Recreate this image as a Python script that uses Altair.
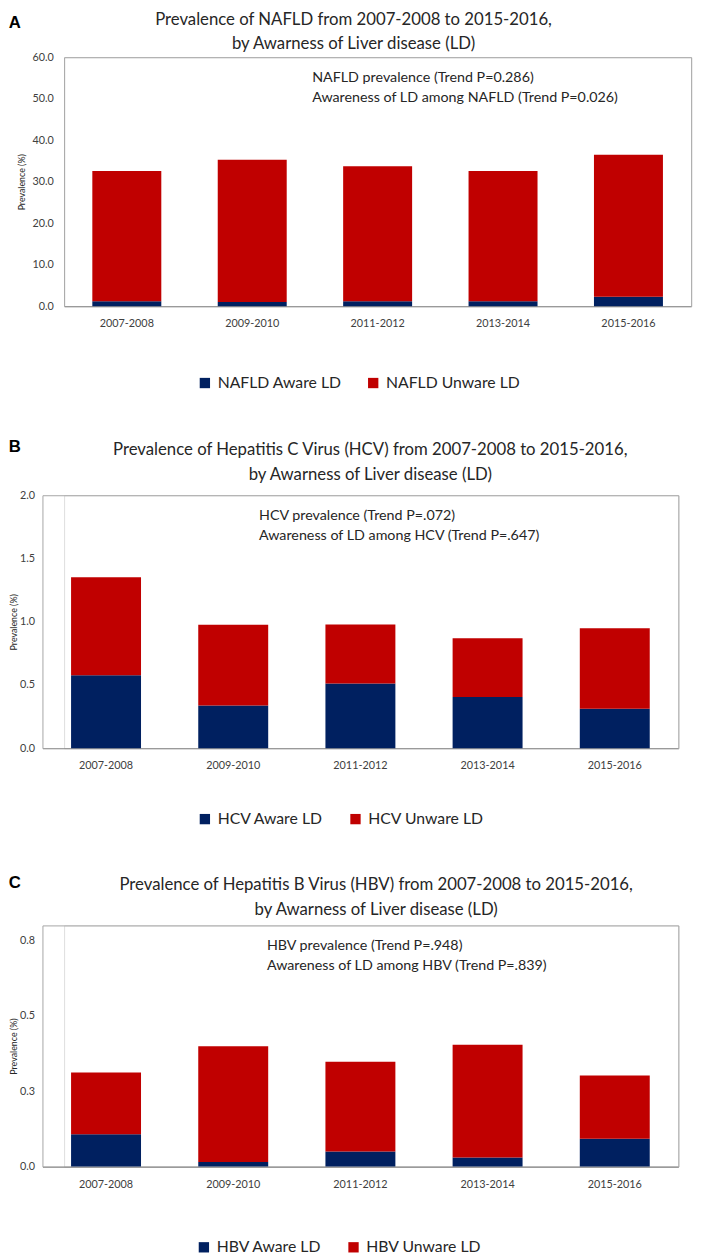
import altair as alt
import pandas as pd

periods = ["2007-2008", "2009-2010", "2011-2012", "2013-2014", "2015-2016"]

# Panel A: NAFLD
nafld_aware = [1.2, 1.0, 1.2, 1.2, 2.3]
nafld_unaware = [31.4, 34.3, 32.5, 31.4, 34.2]
nafld_names = ["NAFLD Aware LD", "NAFLD Unware LD"]

# Panel B: HCV
hcv_aware = [0.577, 0.338, 0.511, 0.405, 0.312]
hcv_unaware = [0.775, 0.638, 0.468, 0.465, 0.636]
hcv_names = ["HCV Aware LD", "HCV Unware LD"]

# Panel C: HBV
hbv_aware = [0.107, 0.015, 0.050, 0.030, 0.092]
hbv_unaware = [0.205, 0.384, 0.298, 0.374, 0.210]
hbv_names = ["HBV Aware LD", "HBV Unware LD"]

FONT = "Lato"
NAVY = "#002060"
RED = "#C00000"
FRAME = "#A6A6A6"


def text_layer(s, x, y, **kw):
    return alt.Chart(pd.DataFrame({"t": [s]})).mark_text(**kw).encode(
        x=alt.value(x), y=alt.value(y), text="t:N")


def panel(letter, title, ann, aware, unaware, names, domain, ticks,
          width, height, shift, title_x, title_y, ann_x, letter_x, letter_y, leg_x, leg_y,
          ytitle_pad, ylab_pad):
    df = pd.DataFrame({
        "period": periods * 2,
        "group": [names[0]] * len(periods) + [names[1]] * len(periods),
        "value": aware + unaware,
        "ord": [0] * len(periods) + [1] * len(periods),
    })
    xscale = alt.Scale(paddingInner=0.45, paddingOuter=0.225, range=[-shift, width])
    yscale = alt.Scale(domain=domain, nice=False)
    bars = alt.Chart(df).mark_bar().encode(
        x=alt.X("period:N", sort=periods, scale=xscale,
                axis=alt.Axis(title=None, labelAngle=0, ticks=False, labelPadding=12,
                              labelFontSize=11, labelColor="#404040", labelFont=FONT,
                              domainColor="#808080", domainWidth=1.2)),
        y=alt.Y("value:Q", stack="zero", scale=yscale,
                axis=alt.Axis(values=ticks, format=".1f", title="Prevalence (%)",
                              titleFontSize=9, titleFontWeight="normal", titleColor="#262626",
                              titleFont=FONT, titlePadding=ytitle_pad, offset=shift,
                              grid=False, domain=True, domainColor=FRAME, ticks=False,
                              labelPadding=ylab_pad,
                              labelFontSize=11, labelColor="#404040", labelFont=FONT)),
        color=alt.Color("group:N", scale=alt.Scale(domain=names, range=[NAVY, RED]),
                        legend=alt.Legend(title=None, orient="none", legendX=leg_x, legendY=leg_y,
                                          direction="horizontal", symbolType="square",
                                          symbolSize=110, symbolStrokeWidth=0,
                                          labelFontSize=16, labelFont=FONT, labelColor="#262626",
                                          columnPadding=24, labelOffset=5)),
        order=alt.Order("ord:Q"),
    )
    # top and right axis lines close the plot-area frame
    frame = alt.Chart(df).mark_bar(opacity=0).encode(
        x=alt.X("period:N", sort=periods, scale=xscale,
                axis=alt.Axis(orient="top", title=None, labels=False, ticks=False,
                              domainColor=FRAME, domainWidth=1)),
        y=alt.Y("value:Q", stack="zero", scale=yscale,
                axis=alt.Axis(orient="right", title=None, labels=False, ticks=False, grid=False,
                              domainColor=FRAME, domainWidth=1)),
    )
    tstyle = dict(align="center", baseline="middle", fontSize=17, font=FONT, color="#262626")
    nstyle = dict(align="left", baseline="middle", fontSize=14.5, font=FONT, color="#262626")
    layers = [
        bars,
        frame,
        text_layer(title[0], title_x, title_y, **tstyle),
        text_layer(title[1], title_x, title_y + 25, **tstyle),
        text_layer(ann[0], ann_x, 21, **nstyle),
        text_layer(ann[1], ann_x, 41, **nstyle),
        text_layer(letter, letter_x, letter_y, align="center", baseline="middle", fontSize=17,
                   fontWeight="bold", font="Liberation Sans", color="#000000"),
    ]
    return alt.layer(*layers).resolve_axis(x="independent", y="independent").properties(
        width=width, height=height)


a = panel("A",
          ["Prevalence of NAFLD from 2007-2008 to 2015-2016,", "by Awarness of Liver disease (LD)"],
          ["NAFLD prevalence (Trend P=0.286)", "Awareness of LD among NAFLD (Trend P=0.026)"],
          nafld_aware, nafld_unaware, nafld_names, [0, 60], [0, 10, 20, 30, 40, 50, 60],
          637, 253, 0, 294, -38, 252, -50, -35, 135, 323, 5, 11)
b = panel("B",
          ["Prevalence of Hepatitis C Virus (HCV) from 2007-2008 to 2015-2016,",
           "by Awarness of Liver disease (LD)"],
          ["HCV prevalence (Trend P=.072)", "Awareness of LD among HCV (Trend P=.647)"],
          hcv_aware, hcv_unaware, hcv_names, [0, 2.0], [0, 0.5, 1.0, 1.5, 2.0],
          624, 257, 22, 311, -46, 198, -50, -49, 135, 321, 1, 8)
c = panel("C",
          ["Prevalence of Hepatitis B Virus (HBV) from 2007-2008 to 2015-2016,",
           "by Awarness of Liver disease (LD)"],
          ["HBV prevalence (Trend P=.948)", "Awareness of LD among HBV (Trend P=.839)"],
          hbv_aware, hbv_unaware, hbv_names, [0, 0.8], [0, 0.25, 0.5, 0.75],
          624, 245, 22, 317, -41, 206, -50, -43, 134, 319, 1, 8)

chart = alt.vconcat(a, b, c, spacing=46).resolve_scale(
    color="independent", x="independent", y="independent"
).resolve_legend(color="independent").properties(
    padding={"left": 0, "top": -8, "right": 0, "bottom": 0}
).configure_view(stroke="transparent", strokeWidth=0, strokeOpacity=0).configure(font=FONT)

chart.save("out.html", embed_options={"renderer": "svg", "actions": False})
